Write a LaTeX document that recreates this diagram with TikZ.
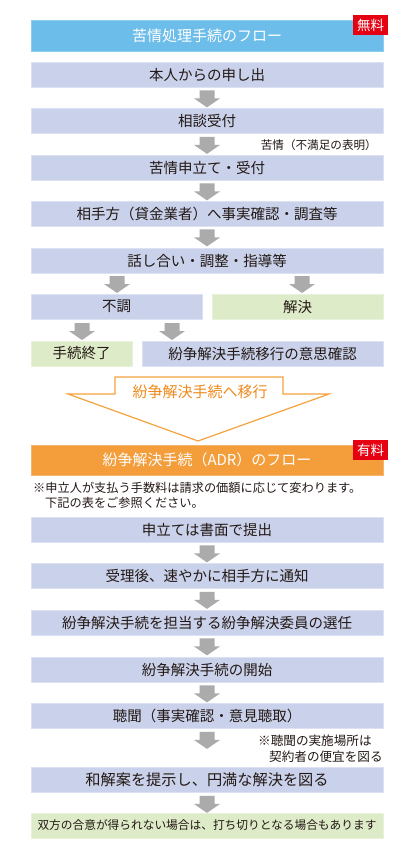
\documentclass[tikz,border=0pt]{standalone}
\usepackage{fontspec}
\setmainfont{Noto Sans CJK JP}
\usetikzlibrary{calc}
\definecolor{lav}{HTML}{C9D2EA}
\definecolor{lavedge}{HTML}{DCE2F3}
\definecolor{ttlblue}{HTML}{6CBDE9}
\definecolor{ttledge}{HTML}{8ECDEF}
\definecolor{grn}{HTML}{DEEBC8}
\definecolor{grnedge}{HTML}{E8F1DA}
\definecolor{orng}{HTML}{F39D3B}
\definecolor{orngedge}{HTML}{F6B56C}
\definecolor{orline}{HTML}{F5A23C}
\definecolor{ortext}{HTML}{EF8A1C}
\definecolor{badgered}{HTML}{E50012}
\definecolor{arrgray}{HTML}{ABABAB}
\definecolor{txt}{HTML}{231815}
\newcommand\myfs[1]{\fontsize{#1}{#1}\selectfont}
\begin{document}
\begin{tikzpicture}[x=1pt,y=-1pt,
  bx/.style={fill=lav, draw=lavedge, line width=0.8pt, minimum height=25pt,
    minimum width=352pt, inner sep=0pt, font=\myfs{14.5}, text=txt},
  gbx/.style={bx, fill=grn, draw=grnedge},
  ttl/.style={bx, fill=ttlblue, draw=ttledge, minimum height=31pt, text=white, font=\myfs{15}},
  adr/.style={bx, fill=orng, draw=orngedge, minimum height=30pt, text=white, font=\myfs{15}},
  badge/.style={fill=badgered, minimum width=35pt, minimum height=20pt, inner sep=0pt,
    text=white, font=\myfs{13.5}},
  note/.style={inner sep=0pt, text=txt, font=\myfs{12.2}},
  garrow/.pic={\fill[arrgray] (-7.5,0)--(7.5,0)--(7.5,8)--(13,8)--(0,17)--(-13,8)--(-7.5,8)--cycle;}
]
\useasboundingbox[fill=white] (0,0) rectangle (415,850);

% ---- free flow
\node[ttl] (title) at (207,35.5) {苦情処理手続のフロー};
\node[badge] (free) at (370.5,25) {無料};

\node[bx] (b1) at (207,74.5) {本人からの申し出};
\node[bx] (b2) at (207,120.5) {相談受付};
\node[bx] (b3) at (207,167.5) {苦情申立て・受付};
\node[bx] (b4) at (207,213.5) {相手方（貸金業者）へ事実確認・調査等};
\node[bx] (b5) at (207,260.5) {話し合い・調整・指導等};
\node[bx, minimum width=171pt] (fail) at (116.5,306.5) {不調};
\node[gbx, minimum width=171pt] (solved) at (297.5,306.5) {解決};
\node[gbx, minimum width=101pt] (end) at (81.5,353.5) {手続終了};
\node[bx, minimum width=241pt] (confirm) at (262.5,353.5) {紛争解決手続移行の意思確認};

\node[note, font=\myfs{11.6}, anchor=east] (complaint) at (377,145) {苦情（不満足の表明）};

\pic at ($(b1.south)+(0,3)$) {garrow};
\pic at ($(b2.south)+(0,3.5)$) {garrow};
\pic at ($(b3.south)+(0,3)$) {garrow};
\pic at ($(b4.south)+(0,3)$) {garrow};
\pic at (117,276) {garrow};
\pic at (302,276) {garrow};
\pic at (82,323) {garrow};
\pic at (172,323) {garrow};

% ---- transition arrow
\coordinate (tip) at (198,441);
\draw[orline, line width=1.2pt, line join=miter]
  (115,377) -- (283,377) -- (283,394) -- (329,394) -- (tip) -- (68,394) -- (115,394) -- cycle;
\node[inner sep=0pt, text=ortext, font=\myfs{15}] (move) at (200,392) {紛争解決手続へ移行};

% ---- ADR flow
\node[adr] (adr) at (207,460) {紛争解決手続（ADR）のフロー};
\node[badge] (paid) at (370.5,450) {有料};
\node[note, anchor=west] (n1) at (33,488) {※申立人が支払う手数料は請求の価額に応じて変わります。};
\node[note, anchor=west] (n2) at (45,503) {下記の表をご参照ください。};

\node[bx] (c1) at (207,529.5) {申立ては書面で提出};
\node[bx] (c2) at (207,575.5) {受理後、速やかに相手方に通知};
\node[bx] (c3) at (207,622.5) {紛争解決手続を担当する紛争解決委員の選任};
\node[bx] (c4) at (207,669.5) {紛争解決手続の開始};
\node[bx] (c5) at (207,715.5) {聴聞（事実確認・意見聴取）};
\node[bx, font=\myfs{15.2}] (c6) at (207,780) {和解案を提示し、円満な解決を図る};
\node[gbx, font=\myfs{11.7}] (c7) at (207,825.5) {双方の合意が得られない場合は、打ち切りとなる場合もあります};

\node[note, font=\myfs{12.6}, anchor=west] (n3) at (258,741) {※聴聞の実施場所は};
\node[note, font=\myfs{12.6}, anchor=west] (n4) at (269,757) {契約者の便宜を図る};

\pic at ($(c1.south)+(0,3)$) {garrow};
\pic at ($(c2.south)+(0,3.5)$) {garrow};
\pic at ($(c3.south)+(0,3)$) {garrow};
\pic at ($(c4.south)+(0,3)$) {garrow};
\pic at ($(c5.south)+(0,3.5)$) {garrow};
\pic at ($(c6.south)+(0,3)$) {garrow};
\end{tikzpicture}
\end{document}
